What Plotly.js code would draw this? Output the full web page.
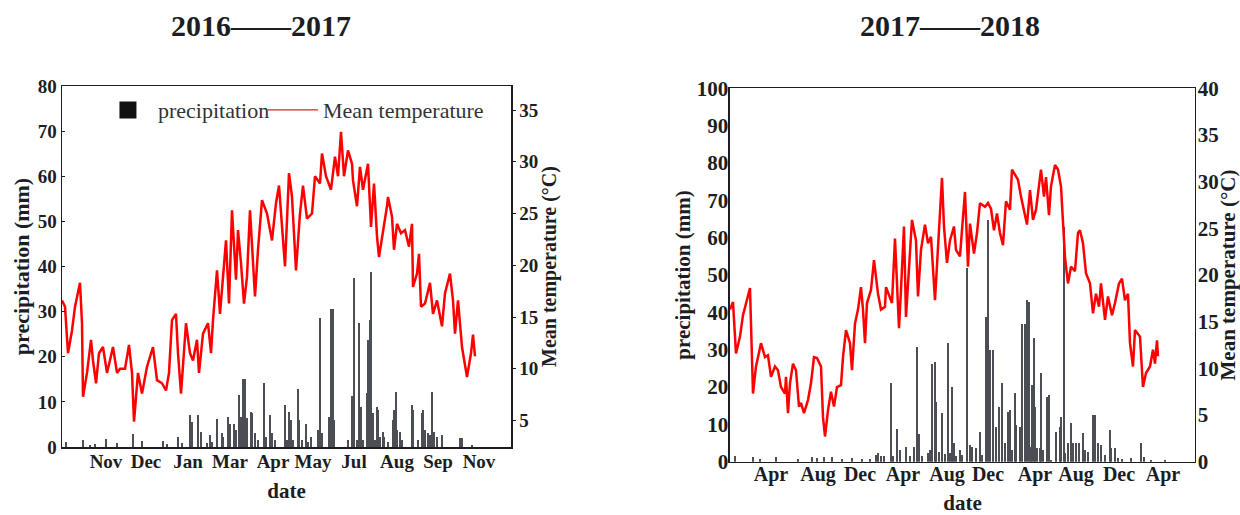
<!DOCTYPE html>
<html>
<head>
<meta charset="utf-8">
<script src="https://cdn.plot.ly/plotly-3.0.1.min.js"></script>
<style>html,body{margin:0;padding:0;background:#fff;}#chart{width:1240px;height:515px;}</style>
</head>
<body>
<div id="chart"></div>
<script>
// ---------- 2016-2017 panel ----------
const tickDays1 = [44, 84, 126, 168, 211, 251, 292, 335, 376, 417];
const tickLabels1 = ["Nov", "Dec", "Jan", "Mar", "Apr", "May", "Jul", "Aug", "Sep", "Nov"];

const tempDays1 = [0,3,6,10,13,18,20,21,25,29,31,34,37,41,45,51,55,58,63,67,70,72,76,80,85,91,95,100,104,107,110,114,116,119,124,128,131,135,137,141,
  146,149,151,155,158,161,164,167,170,174,176,179,182,185,188,193,196,200,205,210,214,217,223,227,230,234,238,241,245,250,253,258,260,264,269,273,276,279,282,286,290,
  291,295,298,301,306,309,312,315,317,321,325,326,330,332,335,339,343,347,350,351,355,357,359,363,368,371,375,380,383,388,391,393,396,400,403,405,409,411,413];
const temp1 = [16.6,16.0,11.5,13.7,16.0,18.3,14.4,7.3,9.6,12.8,10.8,8.6,11.5,12.1,9.6,12.1,9.6,10.0,10.0,12.3,9.6,4.9,9.6,7.6,10.2,12.1,8.9,8.6,7.9,9.6,14.7,15.3,11.5,7.6,14.4,11.5,10.8,12.8,9.6,13.4,
  14.4,11.5,14.7,19.5,15.3,19.2,22.4,16.3,25.3,18.6,23.4,20.2,16.3,18.9,25.3,17.0,21.5,26.3,25.0,22.4,26.0,27.7,19.9,28.9,26.6,19.5,25.0,27.7,24.5,25.0,28.6,27.9,30.8,28.6,27.3,30.5,28.6,32.9,28.6,31.1,29.8,
  28.2,25.7,29.5,27.3,29.8,23.7,27.9,22.8,20.8,23.1,25.7,26.6,24.7,21.5,24.0,23.1,23.4,21.8,24.0,17.9,19.2,21.1,16.0,16.3,18.3,15.3,16.6,14.1,17.3,19.2,16.6,13.4,16.6,12.1,10.2,9.2,11.5,13.3,11.2];

const rainDays1 = [4,21,28,33,44,55,71,80,101,105,116,120,128,130,136,139,145,148,150,155,160,161,166,168,172,174,177,179,181,183,185,189,190,193,196,202,204,208,210,213,
  223,225,227,229,231,236,237,240,244,246,249,256,258,260,267,269,271,272,286,290,292,295,297,299,301,305,306,308,309,311,313,315,316,318,321,322,326,331,332,334,335,338,340,
  350,351,356,360,361,363,366,368,370,372,375,380,398,400,410];
const rain1 = [1.2,1.5,0.5,0.6,1.7,1.0,2.9,1.4,1.4,0.6,2.3,1.0,7.1,5.6,7.0,3.4,1.0,2.7,1.2,6.1,3.0,2.3,6.7,5.2,5.2,3.7,11.5,6.7,15.0,15.0,6.5,7.8,7.5,3.0,1.5,14.1,2.3,7.1,3.0,1.5,
  9.3,1.5,7.8,6.0,1.5,12.9,6.0,1.5,5.0,1.2,2.3,3.7,28.5,3.0,6.7,30.6,30.6,6.0,1.5,11.2,37.4,1.5,27.4,8.9,1.5,12.0,23.7,28.2,38.7,7.5,1.5,8.9,8.1,2.3,3.4,2.3,1.2,6.0,8.1,12.3,3.7,3.4,1.5,
  9.3,8.1,1.5,7.5,8.2,3.7,3.0,2.7,12.3,3.4,2.3,2.7,1.9,1.9,0.5];

// ---------- 2017-2018 panel ----------
const tickDays2 = [41, 88, 130, 173, 217, 258, 305, 346, 389, 433];
const tickLabels2 = ["Apr", "Aug", "Dec", "Apr", "Aug", "Dec", "Apr", "Aug", "Dec", "Apr"];

const tempDays2 = [0,3,6,10,13,16,20,21,23,26,30,31,35,38,41,45,48,51,55,56,58,60,63,66,69,71,74,78,81,84,87,91,93,95,98,101,104,107,111,113,116,120,122,125,128,131,133,135,137,141,144,
  148,151,155,156,160,162,165,167,169,171,174,176,179,182,186,188,191,195,198,201,205,208,210,212,214,217,220,224,226,230,232,235,238,240,244,247,250,255,258,261,264,267,270,273,276,280,282,286,
  288,291,295,297,300,303,306,311,314,316,319,321,325,328,331,333,335,338,341,345,348,350,353,356,360,363,366,369,371,375,378,382,385,389,392,395,398,400,403,405,410,412,413,416,420,423,425,427,428];
const temp2 = [16.3,17.1,11.6,13.4,15.7,17.0,18.6,14.8,7.3,10.2,12.3,12.7,11.2,11.4,9.1,10.2,9.8,8.0,7.3,9.1,5.2,8.4,10.5,9.8,5.9,6.3,5.2,6.6,8.4,11.2,11.1,10.2,4.8,2.7,5.5,7.5,5.9,8.0,8.2,11.2,14.1,12.7,9.8,14.8,16.3,18.7,16.3,12.7,17.0,18.4,21.6,
  18.0,16.3,16.6,18.7,17.7,17.0,23.9,19.1,14.3,18.4,25.2,15.5,20.9,25.9,23.7,17.7,22.7,25.4,23.4,24.1,17.3,22.7,25.5,30.4,25.2,21.3,23.7,25.2,22.7,22.0,24.8,28.9,20.9,25.5,22.3,24.5,27.7,27.3,27.7,27.1,24.8,26.6,24.5,23.2,27.9,27.0,31.3,30.5,
  30.2,28.4,26.3,25.4,29.1,25.9,27.0,31.3,28.4,30.5,26.4,29.5,31.8,31.3,29.5,25.2,21.9,19.1,20.9,20.4,24.5,24.8,23.4,20.2,19.1,15.9,18.0,16.6,19.1,15.2,17.7,15.7,17.0,19.1,19.6,17.3,18.0,12.7,10.2,14.1,13.4,9.8,8.0,9.5,10.2,12.0,10.5,13.0,11.3];

const rainDays2 = [5,23,30,46,68,82,87,94,102,112,122,132,140,146,148,151,154,161,163,167,170,176,180,184,187,189,192,198,200,202,205,206,209,212,215,218,220,222,224,226,230,232,
  237,240,242,246,250,252,256,258,260,263,266,269,272,275,278,280,282,285,286,290,292,295,297,299,301,302,304,305,307,310,311,313,317,319,321,326,330,331,334,335,338,341,343,346,349,
  353,355,358,363,365,368,371,375,380,381,385,388,392,401,411,414,421,435];
const rain2 = [1.5,1.2,0.6,1.2,0.6,1.2,0.9,1.3,1.2,0.6,0.9,0.6,0.6,1.8,2.2,1.5,1.5,21.0,1.5,8.8,3.0,4.0,1.5,4.0,30.8,7.3,1.5,2.2,3.1,26.3,26.8,16.0,2.5,13.0,2.0,31.7,2.2,20.1,4.9,1.5,3.1,1.8,
  51.8,4.5,4.0,3.6,8.0,1.8,38.8,64.7,29.9,29.9,9.4,14.7,21.0,4.9,13.4,13.8,3.1,18.3,9.8,9.4,37.0,37.0,43.3,42.9,4.0,20.5,33.0,14.7,3.6,3.6,23.7,3.0,17.4,17.9,0.5,8.0,9.4,12.1,62.9,2.2,4.9,10.3,4.9,4.9,4.9,
  7.6,3.1,2.7,12.5,12.5,4.9,4.5,1.8,8.5,3.6,3.6,0.9,0.6,0.9,4.9,1.3,0.5,0.5];

// ---------- styling ----------
const SERIF = "Liberation Serif, Times New Roman, serif";
const INK = "#1d1d24";
const BAR = "#4b4e55";
const RED = "#ff0000";
const bold = (s) => ({family: SERIF, size: s, color: INK, weight: "bold"});

const traces = [
  {type: "bar", x: rainDays1, y: rain1, width: 1.7, xaxis: "x", yaxis: "y", name: "precipitation",
   marker: {color: BAR, line: {width: 0}}, showlegend: false},
  {type: "scatter", mode: "lines", x: tempDays1, y: temp1, xaxis: "x", yaxis: "y2", name: "Mean temperature",
   line: {color: RED, width: 2.5}, showlegend: false},
  {type: "bar", x: rainDays2, y: rain2, width: 1.7, xaxis: "x2", yaxis: "y3", name: "precipitation",
   marker: {color: BAR, line: {width: 0}}, showlegend: false},
  {type: "scatter", mode: "lines", x: tempDays2, y: temp2, xaxis: "x2", yaxis: "y4", name: "Mean temperature",
   line: {color: RED, width: 2.5}, showlegend: false},
  // legend entries (no data of their own) styled like the reference key
  {type: "bar", x: [null], y: [null], xaxis: "x", yaxis: "y", name: "precipitation", legendgroup: "p", legendwidth: 100,
   marker: {color: "#111", line: {color: "#111", width: 5}}, showlegend: true},
  {type: "scatter", mode: "lines", x: [null], y: [null], xaxis: "x", yaxis: "y2", name: "Mean temperature", legendgroup: "t", legendwidth: 180,
   line: {color: "#e0201c", width: 1.3}, showlegend: true}
];

const frameAxis = {showline: true, linecolor: INK, linewidth: 1.5, showgrid: false, zeroline: false, fixedrange: true};

const layout = {
  width: 1240, height: 515,
  margin: {l: 0, r: 0, t: 0, b: 0},
  paper_bgcolor: "#fff", plot_bgcolor: "#fff",
  bargap: 0, barmode: "overlay",
  showlegend: true,
  legend: {orientation: "h", x: 0.079, y: 0.827, xanchor: "left", yanchor: "top",
           font: {family: SERIF, size: 22, color: "#333"}, bgcolor: "rgba(0,0,0,0)",
           itemwidth: 50, traceorder: "normal"},
  xaxis: Object.assign({}, frameAxis, {domain: [0.05, 0.4121], range: [0, 449], anchor: "y", mirror: true,
    tickmode: "array", tickvals: tickDays1, ticktext: tickLabels1, ticks: "", tickfont: bold(19), ticklabelstandoff: -3,
    title: {text: "date", font: bold(21), standoff: 12}}),
  yaxis: Object.assign({}, frameAxis, {domain: [0.132, 0.833], range: [0, 80], dtick: 10, anchor: "x",
    ticks: "inside", ticklen: 3, tickcolor: INK, tickfont: bold(19),
    title: {text: "precipitation (mm)", font: bold(22), standoff: 2}}),
  yaxis2: Object.assign({}, frameAxis, {domain: [0.132, 0.833], range: [2.44, 37.32], overlaying: "y", side: "right", anchor: "x",
    tickmode: "array", tickvals: [5, 10, 15, 20, 25, 30, 35], ticks: "outside", ticklen: 3, tickcolor: INK, tickfont: bold(19),
    title: {text: "Mean temperature (°C)", font: bold(20), standoff: 3}}),
  xaxis2: Object.assign({}, frameAxis, {domain: [0.5887, 0.9637], range: [0, 465], anchor: "y3", mirror: true,
    tickmode: "array", tickvals: tickDays2, ticktext: tickLabels2, ticks: "", tickfont: bold(20), ticklabelstandoff: -6,
    title: {text: "date", font: bold(21), standoff: 12}}),
  yaxis3: Object.assign({}, frameAxis, {domain: [0.1035, 0.8285], range: [0, 100], dtick: 10, anchor: "x2",
    ticks: "", tickfont: bold(21), ticklabelstandoff: -4,
    title: {text: "precipitation (mm)", font: bold(21), standoff: 0}}),
  yaxis4: Object.assign({}, frameAxis, {domain: [0.1035, 0.8285], range: [0, 40], dtick: 5, overlaying: "y3", side: "right", anchor: "x2",
    ticks: "", tickfont: bold(21), ticklabelstandoff: -3,
    title: {text: "Mean temperature (°C)", font: bold(21), standoff: 8}}),
  annotations: [
    {text: "2016——2017", xref: "paper", yref: "paper", x: 261 / 1240, y: 1 - 26 / 515, xanchor: "center", yanchor: "middle",
     showarrow: false, font: bold(30)},
    {text: "2017——2018", xref: "paper", yref: "paper", x: 950 / 1240, y: 1 - 26 / 515, xanchor: "center", yanchor: "middle",
     showarrow: false, font: bold(30)}
  ]
};

Plotly.newPlot("chart", traces, layout, {staticPlot: true, displayModeBar: false});
</script>
</body>
</html>
